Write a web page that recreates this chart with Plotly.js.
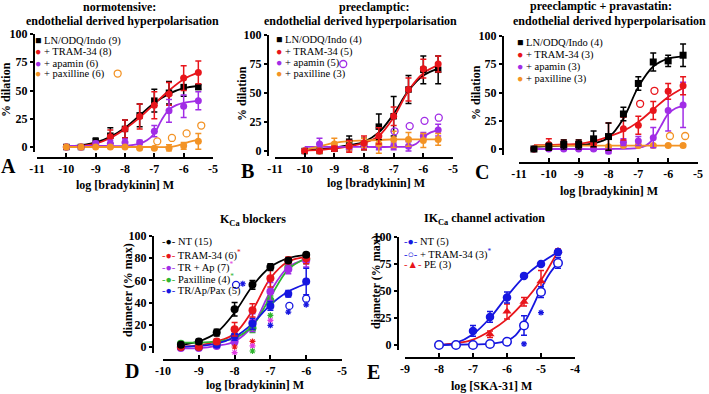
<!DOCTYPE html>
<html><head><meta charset="utf-8">
<script src="https://cdn.plot.ly/plotly-3.0.1.min.js"></script>
<style>html,body{margin:0;padding:0;background:#fff}#chart{width:709px;height:394px}</style>
</head><body><div id="chart"></div>
<script>
// ---------------- Panel A : normotensive ----------------
const A_x = [-10,-9.5,-9,-8.5,-8,-7.5,-7,-6.5,-6,-5.5];
const A_ctrl = [0,0,5,10,16,28,41,48,53,53];
const A_ctrl_err = [1,1,3,7,8,10,10,10,8,2];
const A_tram = [0,0,2,9,16,27,37,47,61,66];
const A_tram_err = [0,0,2,6,8,11,12,10,11,10];
const A_apa = [0,0,3,3,4,4,14,32,36,41];
const A_apa_err = [0,0,2,3,3,2,5,10,10,8];
const A_pax = [0,0,0,0,0,-1,-1,-1,1,5];
const A_pax_err = [0,0,0,1,1,1,1,3,3,7];
const A_pax_sig_x = [-8.25,-6.9,-6.4,-5.9,-5.4];
const A_pax_sig = [65,5,8,12,19];
const A_ctrl_fit = [0.5,1.5,4,9,17,28,39,47,52,54];
const A_tram_fit = [0,1,3,8,16,26,38,50,60,66];
const A_apa_fit_x = [-10,-9,-8,-7.5,-7.25,-7,-6.75,-6.5,-6.25,-6,-5.5];
const A_apa_fit = [1,1,1,3,6,12,24,33,37,39,41];
const A_pax_fit_x = [-10,-9,-8,-7,-6.5,-6.25,-6,-5.75,-5.5];
const A_pax_fit = [0,0,0,0,0,1,3,5,6];

// ---------------- Panel B : preeclamptic ----------------
const B_x = [-10,-9.5,-9,-8.5,-8,-7.5,-7,-6.5,-6,-5.5];
const B_ctrl = [0,0,2,8,6,21,30,53,70,70];
const B_ctrl_err = [0,0,2,5,5,11,17,12,12,12];
const B_tram = [0,0,2,4,7,13,30,53,71,75];
const B_tram_err = [0,0,2,5,6,7,8,10,8,7];
const B_apa = [0,6,3,2,5,4,4,4,13,18];
const B_apa_err = [0,5,2,2,3,3,3,4,3,5];
const B_pax = [0,0,6,4,7,6,10,10,9,10];
const B_pax_err = [0,2,5,4,4,8,7,6,6,5];
const B_apa_sig_x = [-8.7,-6.97,-6.46,-5.96,-5.48];
const B_apa_sig = [75,17,21.5,26,28.7];
const B_ctrl_fit = [1,1.5,3,5,8,16,32,52,65,71];
const B_tram_fit = [0.5,1,2,4,7,13,29,52,67,74];
const B_pax_fit = [1,4,7,8.5,9,9.5,10,10,10,10];
const B_apa_fit_x = [-10,-9,-8,-7,-6.5,-6.25,-6,-5.75,-5.5];
const B_apa_fit = [3.5,3.5,3.5,3.5,4,6,12,16,18];

// ---------------- Panel C : preeclamptic + pravastatin ----------------
const C_x = [-10.5,-10,-9.5,-9,-8.5,-8,-7.5,-7,-6.5,-6,-5.5];
const C_ctrl = [0,2,4,4,9,11,31,58,77,78,83];
const C_ctrl_err = [1,3,4,4,7,12,6,6,8,5,10];
const C_tram = [0,4,5,5,5,11,18,21,34,51,56];
const C_tram_err = [1,5,3,3,3,12,10,8,8,7,8];
const C_apa = [0,0,0,0,0,-2,6,7,10,34,39];
const C_apa_err = [0,1,1,1,1,2,3,4,9,18,20];
const C_pax = [0,1,2,2,2,2,3,3,3,3,3];
const C_pax_err = [0,1,1,1,1,1,1,1,1,1,1];
const C_tram_sig_x = [-6.94,-6.46];
const C_tram_sig = [40,51.5];
const C_pax_sig_x = [-5.94,-5.43];
const C_pax_sig = [11.5,11.5];
const C_ctrl_fit = [2,2.5,3,3.5,5,10,27,55,73,80,82];
const C_tram_fit = [3.5,3.5,4,4.5,7,11,16,24,35,46,54];
const C_apa_fit_x = [-10.5,-9,-8,-7,-6.75,-6.5,-6.25,-6,-5.75,-5.5];
const C_apa_fit = [0,0,0,1,3,9,20,31,36,38];
const C_pax_fit_x = [-10.5,-5.5];
const C_pax_fit = [3,3];

// ---------------- Panel D : KCa blockers ----------------
const D_x = [-9.5,-9,-8.5,-8,-7.5,-7,-6.5,-6];
const D_nt = [2,5,13,34,56,72,78,83];
const D_nt_err = [2,2,3,6,4,3,2,2];
const D_tram = [0,0,5,16,33,62,78,80];
const D_tram_err = [1,1,2,6,6,8,3,5];
const D_trap = [-1,-1,1,5,22,50,70,78];
const D_trap_err = [1,1,2,3,8,8,4,6];
const D_pax = [3,3,3,9,17,42,72,79];
const D_pax_err = [1,1,2,3,4,4,3,4];
const D_tap = [0,0,2,10,21,37,48,59];
const D_tap_err = [1,1,2,4,5,4,3,12];
const D_tap_open_x = [-7.96,-6.47,-6.0];
const D_tap_open = [56,37,43.5];
const D_star_red_x = [-8,-7.5];
const D_star_red = [0,5];
const D_star_mag_x = [-8,-7.5,-7];
const D_star_mag = [-5,1,24];
const D_star_grn_x = [-8,-7.5,-7];
const D_star_grn = [-9.6,-3.6,28.5];
const D_star_blu_x = [-8,-7.5,-7,-6.5,-6,-7.77];
const D_star_blu = [-14,-8,19.5,31.5,38,57];
const D_nt_fit = [2,5,13,31,55,72,80,83];
const D_tram_fit = [0.5,1.5,5,12,33,62,77,81];
const D_trap_fit = [-1,-1,1,5,19,50,72,79];
const D_pax_fit = [4,4,5,8,19,45,70,80];
const D_tap_fit = [0,1,3,9,21,38,50,57];

// ---------------- Panel E : IKCa channel activation ----------------
const E_x = [-8,-7.5,-7,-6.5,-6,-5.5,-5,-4.5];
const E_nt = [0,0,13,26,44,64,75,86];
const E_nt_err = [1,1,5,5,5,2,2,2];
const E_tram = [0,0,0,1,3,18,49,76];
const E_tram_err = [1,1,1,3,2,9,5,5];
const E_pe = [0,0,0,10,31,40,59,87];
const E_pe_err = [1,1,1,3,7,4,10,2];
const E_star_x = [-6.5,-6,-5.5,-5];
const E_star = [-6,-6,1,30];
const E_nt_fit = [0,2,10,25,45,63,76,86];
const E_pe_fit = [0,1.5,5,13,24,40,60,87];
const E_tram_fit_x = [-8,-7,-6.5,-6,-5.75,-5.5,-5.25,-5,-4.75,-4.5];
const E_tram_fit = [0,0.5,1,4,9,20,35,52,66,76];

// tick labels
const bkTicks = [-11,-10,-9,-8,-7,-6,-5];
const bkTickText = ['-11','-10','-9','-8','-7','-6','-5'];
const dTicks = [-10,-9,-8,-7,-6,-5];
const dTickText = ['-10','-9','-8','-7','-6','-5'];
const eTicks = [-9,-8,-7,-6,-5,-4];
const eTickText = ['-9','-8','-7','-6','-5','-4'];
const pctTicks = [0,25,50,75,100];
const pctTickText = ['0','25','50','75','100'];
const dYTicks = [0,20,40,60,80,100];
const dYTickText = ['0','20','40','60','80','100'];

// colours
const BLACK='#000000', RED='#e8151b', PURPLE='#a12de6', ORANGE='#f39325', GREEN='#2fb52f', BLUE='#1616e0', MAG='#e03ce0';

const W=709, H=394;
const px = v => v/W, py = v => 1 - v/H;
const FONT = 'Liberation Serif';
const bold = arr => arr.map(t => '<b>'+t+'</b>');

function marks(x,y,err,color,symbol,size,xa,ya){
  return {x:x,y:y,mode:'markers',xaxis:xa,yaxis:ya,cliponaxis:false,showlegend:false,hoverinfo:'skip',
    marker:{color:color,symbol:symbol,size:size},
    error_y:{type:'data',array:err,visible:true,color:color,thickness:1.5,width:3}};
}
function fit(x,y,color,xa,ya){
  return {x:x,y:y,mode:'lines',xaxis:xa,yaxis:ya,showlegend:false,hoverinfo:'skip',cliponaxis:false,
    line:{color:color,width:1.8,shape:'spline',smoothing:1}};
}
function openc(x,y,color,xa,ya,size){
  return {x:x,y:y,mode:'markers',xaxis:xa,yaxis:ya,cliponaxis:false,showlegend:false,hoverinfo:'skip',
    marker:{symbol:'circle',size:size||7,color:'rgba(255,255,255,0)',line:{color:color,width:1.3}}};
}
function stars(x,y,color,xa,ya){
  return {x:x,y:y,mode:'markers',xaxis:xa,yaxis:ya,cliponaxis:false,showlegend:false,hoverinfo:'skip',
    marker:{symbol:'asterisk-open',size:5,color:color,line:{color:color,width:1.2}}};
}

const traces = [];
// A
traces.push(fit(A_x,A_ctrl_fit,BLACK,'x','y'), fit(A_x,A_tram_fit,RED,'x','y'),
  fit(A_apa_fit_x,A_apa_fit,PURPLE,'x','y'), fit(A_pax_fit_x,A_pax_fit,ORANGE,'x','y'));
traces.push(marks(A_x,A_ctrl,A_ctrl_err,BLACK,'square',6.5,'x','y'),
  marks(A_x,A_tram,A_tram_err,RED,'circle',7,'x','y'),
  marks(A_x,A_apa,A_apa_err,PURPLE,'circle',7,'x','y'),
  marks(A_x,A_pax,A_pax_err,ORANGE,'circle',7,'x','y'),
  openc(A_pax_sig_x,A_pax_sig,ORANGE,'x','y'));
// B
traces.push(fit(B_x,B_ctrl_fit,BLACK,'x2','y2'), fit(B_x,B_tram_fit,RED,'x2','y2'),
  fit(B_apa_fit_x,B_apa_fit,PURPLE,'x2','y2'), fit(B_x,B_pax_fit,ORANGE,'x2','y2'));
traces.push(marks(B_x,B_ctrl,B_ctrl_err,BLACK,'square',6.5,'x2','y2'),
  marks(B_x,B_apa,B_apa_err,PURPLE,'circle',7,'x2','y2'),
  marks(B_x,B_pax,B_pax_err,ORANGE,'circle',7,'x2','y2'),
  marks(B_x,B_tram,B_tram_err,RED,'circle',7,'x2','y2'),
  openc(B_apa_sig_x,B_apa_sig,PURPLE,'x2','y2'));
// C
traces.push(fit(C_x,C_ctrl_fit,BLACK,'x3','y3'), fit(C_x,C_tram_fit,RED,'x3','y3'),
  fit(C_apa_fit_x,C_apa_fit,PURPLE,'x3','y3'), fit(C_pax_fit_x,C_pax_fit,ORANGE,'x3','y3'));
traces.push(marks(C_x,C_pax,C_pax_err,ORANGE,'circle',7,'x3','y3'),
  marks(C_x,C_apa,C_apa_err,PURPLE,'circle',7,'x3','y3'),
  marks(C_x,C_tram,C_tram_err,RED,'circle',7,'x3','y3'),
  marks(C_x,C_ctrl,C_ctrl_err,BLACK,'square',7,'x3','y3'),
  openc(C_tram_sig_x,C_tram_sig,RED,'x3','y3'),
  openc(C_pax_sig_x,C_pax_sig,ORANGE,'x3','y3'));
// D
traces.push(fit(D_x,D_nt_fit,BLACK,'x4','y4'), fit(D_x,D_tram_fit,RED,'x4','y4'),
  fit(D_x,D_trap_fit,PURPLE,'x4','y4'), fit(D_x,D_pax_fit,GREEN,'x4','y4'), fit(D_x,D_tap_fit,BLUE,'x4','y4'));
traces.push(marks(D_x,D_pax,D_pax_err,GREEN,'circle',8,'x4','y4'),
  marks(D_x,D_trap,D_trap_err,PURPLE,'circle',8,'x4','y4'),
  marks(D_x,D_tap,D_tap_err,BLUE,'circle',8,'x4','y4'),
  marks(D_x,D_tram,D_tram_err,RED,'circle',8,'x4','y4'),
  marks(D_x,D_nt,D_nt_err,BLACK,'circle',8,'x4','y4'),
  openc(D_tap_open_x,D_tap_open,BLUE,'x4','y4',7),
  stars(D_star_red_x,D_star_red,RED,'x4','y4'),
  stars(D_star_mag_x,D_star_mag,MAG,'x4','y4'),
  stars(D_star_grn_x,D_star_grn,GREEN,'x4','y4'),
  stars(D_star_blu_x,D_star_blu,BLUE,'x4','y4'));
// E
traces.push(fit(E_x,E_nt_fit,BLUE,'x5','y5'), fit(E_x,E_pe_fit,RED,'x5','y5'),
  fit(E_tram_fit_x,E_tram_fit,BLUE,'x5','y5'));
traces.push(marks(E_x,E_pe,E_pe_err,RED,'triangle-up',8,'x5','y5'),
  marks(E_x,E_nt,E_nt_err,BLUE,'circle',8.5,'x5','y5'));
const eOpen = marks(E_x,E_tram,E_tram_err,BLUE,'circle',8.5,'x5','y5');
eOpen.marker = {symbol:'circle',size:8.5,color:'#ffffff',line:{color:BLUE,width:1.5}};
traces.push(eOpen, stars(E_star_x,E_star,BLUE,'x5','y5'));

// axes
const axCommon = {showgrid:false,zeroline:false,showline:true,linewidth:2,linecolor:'#000',
  tickwidth:2,tickcolor:'#000',fixedrange:true,
  tickfont:{family:FONT,size:12,color:'#000',weight:'bold'}};
function xax(left,right,posPx,range,vals,text){
  return Object.assign({},axCommon,{domain:[px(left),px(right)],anchor:'free',position:py(posPx),
    ticks:'inside',ticklen:4,
    range:range,tickmode:'array',tickvals:vals,ticktext:bold(text)});
}
function yax(p100,p0,min,posPx,vals,text){
  const bottom = p0 + (p0-p100)*(-min)/100;
  return Object.assign({},axCommon,{domain:[py(bottom),py(p100)],anchor:'free',position:px(posPx),side:'left',
    ticks:'outside',ticklen:3,
    range:[min,100],tickmode:'array',tickvals:vals,ticktext:bold(text)});
}

function ann(text,x,y,size,opt){
  return Object.assign({text:text,x:px(x),y:py(y),xref:'paper',yref:'paper',showarrow:false,
    xanchor:'center',yanchor:'middle',font:{family:FONT,size:size,color:'#000'}},opt||{});
}
const sp = (c,t) => '<span style="color:'+c+'">'+t+'</span>';
const annotations = [
  // titles
  ann('<b>normotensive:</b>',120,7,12), ann('<b>endothelial derived hyperpolarisation</b>',122,21,12),
  ann('<b>preeclamptic:</b>',374,7,12), ann('<b>endothelial derived hyperpolarisation</b>',360,21,12),
  ann('<b>preeclamptic + pravastatin:</b>',601,6,12), ann('<b>endothelial derived hyperpolarisation</b>',609,21,12),
  ann('<b>K<sub>Ca</sub> blockers</b>',253,220,12),
  ann('<b>IK<sub>Ca</sub> channel activation</b>',484,219,12),
  // x titles
  ann('<b>log [bradykinin] M</b>',125,185,12), ann('<b>log [bradykinin] M</b>',376,183,12),
  ann('<b>log [bradykinin] M</b>',609,191,12), ann('<b>log [bradykinin] M</b>',255,385,12),
  ann('<b>log [SKA-31] M</b>',491,386,12),
  // y titles
  ann('<b>% dilation</b>',6,90,12,{textangle:-90}), ann('<b>% dilation</b>',242,94,12,{textangle:-90}),
  ann('<b>% dilation</b>',476,92,12,{textangle:-90}), ann('<b>diameter (% max)</b>',128,290,12,{textangle:-90}),
  ann('<b>diameter (% max)</b>',376,282,12,{textangle:-90}),
  // panel letters
  ann('<b>A</b>',8,166,20), ann('<b>B</b>',247,171,20), ann('<b>C</b>',482,172,20),
  ann('<b>D</b>',132,371,20), ann('<b>E</b>',374,372,20),
];
const L = (t,x,y) => ann(t,x,y,10.5,{xanchor:'left'});
annotations.push(
  L(sp(BLACK,'■')+' LN/ODQ/Indo (9)',33,41), L(sp(RED,'●')+' + TRAM-34 (8)',33,52.5),
  L(sp(PURPLE,'●')+' + apamin (6)',33,63.5), L(sp(ORANGE,'●')+' + paxilline (6)',33,74),
  L(sp(BLACK,'■')+' LN/ODQ/Indo (4)',274,40), L(sp(RED,'●')+' + TRAM-34 (5)',274,51.5),
  L(sp(PURPLE,'●')+' + apamin (5)',274,63), L(sp(ORANGE,'●')+' + paxilline (3)',274,74),
  L(sp(BLACK,'■')+' LN/ODQ/Indo (4)',515,42.5), L(sp(RED,'●')+' + TRAM-34 (3)',515,55),
  L(sp(PURPLE,'●')+' + apamin (3)',515,67), L(sp(ORANGE,'●')+' + paxilline (3)',515,79),
  L(sp(BLACK,'-●-')+' NT (15)',160,242), L(sp(RED,'-●-')+' TRAM-34 (6)'+sp(RED,'<sup>*</sup>'),160,254.5),
  L(sp(PURPLE,'-●-')+' TR + Ap (7)'+sp(MAG,'<sup>*</sup>'),160,267), L(sp(GREEN,'-●-')+' Paxilline (4)'+sp(GREEN,'<sup>*</sup>'),160,279),
  L(sp(BLUE,'-●-')+' TR/Ap/Pax (5)',160,291),
  L(sp(BLUE,'-●-')+' NT (5)',402,242), L(sp(BLUE,'-○-')+' + TRAM-34 (3)'+sp(BLUE,'<sup>*</sup>'),402,253.5),
  L(sp(RED,'-▲-')+' PE (3)',402,265)
);

const layout = {
  width:W,height:H,margin:{l:0,r:0,t:0,b:0},paper_bgcolor:'#fff',plot_bgcolor:'rgba(0,0,0,0)',
  showlegend:false,font:{family:FONT,color:'#000'},
  xaxis: xax(37,213,158,[-11,-5],bkTicks,bkTickText),
  yaxis: yax(34,147,-4,34,pctTicks,pctTickText),
  xaxis2: xax(275,453,158,[-11,-5],bkTicks,bkTickText),
  yaxis2: yax(35,151,-4,268,pctTicks,pctTickText),
  xaxis3: xax(519,698,163,[-11,-5],bkTicks,bkTickText),
  yaxis3: yax(36,149,-5,503,pctTicks,pctTickText),
  xaxis4: xax(163,342,360,[-10,-5],dTicks,dTickText),
  yaxis4: yax(236,347,-5,153,dYTicks,dYTickText),
  xaxis5: xax(405,575,358,[-9,-4],eTicks,eTickText),
  yaxis5: yax(237,345,-5,398,pctTicks,pctTickText),
  annotations:annotations
};
Plotly.newPlot('chart',traces,layout,{staticPlot:true,displayModeBar:false});
</script></body></html>
